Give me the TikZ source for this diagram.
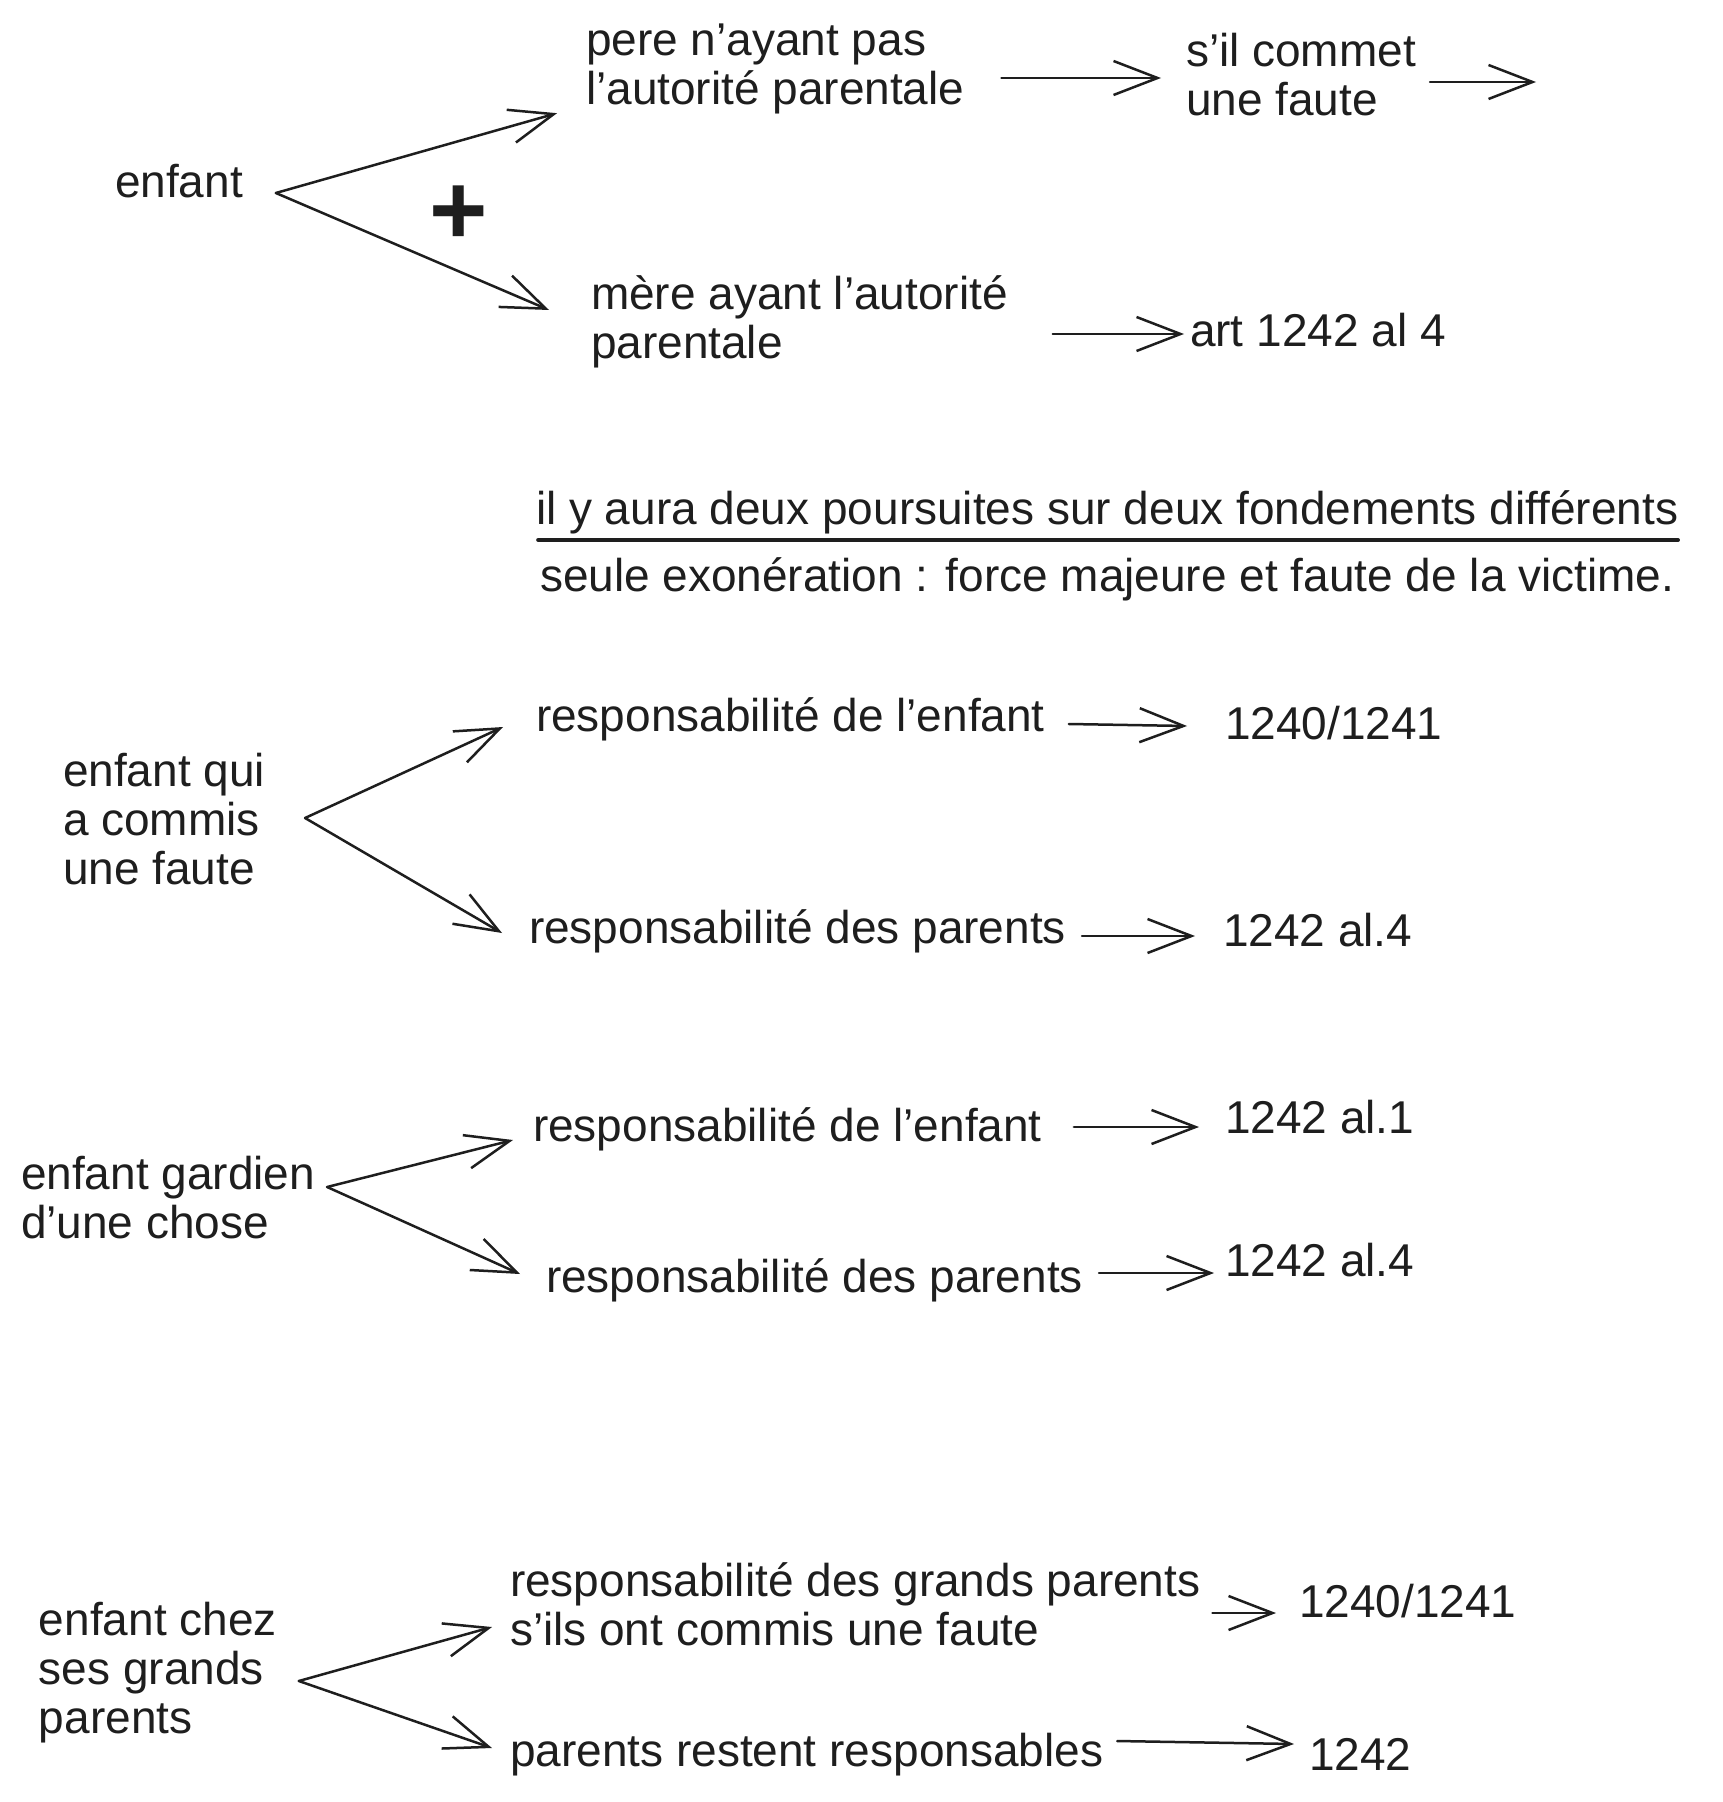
\documentclass[tikz,border=0pt]{standalone}
\usepackage{fontspec}
\setmainfont{Liberation Sans}
\usetikzlibrary{arrows.meta,calc}

\begin{document}
\begin{tikzpicture}[x=0.5pt,y=-0.5pt,
  lbl/.style={text=drawColor,anchor=base west,inner sep=0pt,outer sep=0pt,font=\fontsize{23}{24.5}\selectfont},
  lbls/.style={lbl,anchor=north west,align=left},
  arr/.style={draw=drawColor,line width=1.25pt,line cap=round,line join=round,-{Straight Barb[length=22pt,width=17pt]}}]
\definecolor{fillColor}{RGB}{255,255,255}
\definecolor{drawColor}{RGB}{30,30,30}
\path[use as bounding box,fill=fillColor] (0,0) rectangle (1722,1802);

\node[lbl] (enf) at (115,198) {enfant};
\node[lbls] (pere) at (586,24) {pere n'ayant pas\\l'autorité parentale};
\node[lbls] (sil) at (1186,33) {s'il commet\\une faute};
\node[lbls] (mere) at (591,276) {mère ayant l'autorité\\parentale};
\node[lbl] (art) at (1190,347) {art 1242 al 4};
\node[text=drawColor,inner sep=0pt,font=\fontsize{50}{50}\selectfont\bfseries] (plus) at (459,215) {+};
\coordinate (silout) at (1536,82);

\path[arr] ($(enf.base east)+(33,-5)$) -- ($(pere.south west)+(-29,-1)$);
\path[arr] ($(enf.base east)+(33,-5)$) -- ($(mere.north west)+(-42,34)$);
\path[arr] ($(pere.north east)+(37,54)$) -- ($(sil.north west)+(-25,45)$);
\path[arr] ($(sil.north east)+(14,49)$) -- (silout);
\path[arr] ($(mere.north east)+(45,58)$) -- ($(art.base west)+(-6,-13)$);

\node[lbl] (il) at (536,524) {il y aura deux poursuites sur deux fondements différents};
\path[draw=drawColor,line width=1.8pt,line cap=round] ($(il.base west)+(2,16)$) -- ($(il.base east)+(0,16)$);
\node[lbl] (seule) at (540,591) {seule exonération : force majeure et faute de la victime.};

\node[lbls] (eqf) at (63,753) {enfant qui\\a commis\\une faute};
\node[lbl] (rea) at (536,731) {responsabilité de l'enfant};
\node[lbl] (nea) at (1225,739) {1240/1241};
\node[lbl] (reb) at (529,943) {responsabilité des parents};
\node[lbl] (neb) at (1223,946) {1242 al.4};

\path[arr] ($(eqf.north east)+(40,65)$) -- ($(rea.base west)+(-33,-4)$);
\path[arr] ($(eqf.north east)+(40,65)$) -- ($(reb.base west)+(-27,-10)$);
\path[arr] ($(rea.base east)+(24,-7)$) -- ($(nea.base west)+(-38,-13)$);
\path[arr] ($(reb.base east)+(16,-7)$) -- ($(neb.base west)+(-28,-10)$);

\node[lbls] (egc) at (21,1156) {enfant gardien\\d'une chose};
\node[lbl] (rga) at (533,1141) {responsabilité de l'enfant};
\node[lbl] (nga) at (1225,1133) {1242 al.1};
\node[lbl] (rgb) at (546,1292) {responsabilité des parents};
\node[lbl] (ngb) at (1225,1276) {1242 al.4};

\path[arr] ($(egc.north east)+(12,31)$) -- ($(rga.base west)+(-20,-1)$);
\path[arr] ($(egc.north east)+(12,31)$) -- ($(rgb.base west)+(-26,-18)$);
\path[arr] ($(rga.base east)+(32,-14)$) -- ($(nga.base west)+(-26,-6)$);
\path[arr] ($(rgb.base east)+(16,-19)$) -- ($(ngb.base west)+(-11,-3)$);

\node[lbls] (egp) at (39,1602) {enfant chez\\ses grands\\parents};
\node[lbls] (rpa) at (510,1563) {responsabilité des grands parents\\s'ils ont commis une faute};
\node[lbl] (npa) at (1299,1617) {1240/1241};
\node[lbl] (rpb) at (510,1766) {parents restent responsables};
\node[lbl] (npb) at (1309,1770) {1242};

\path[arr] ($(egp.north east)+(22,79)$) -- ($(rpa.north west)+(-18,64)$);
\path[arr] ($(egp.north east)+(22,79)$) -- ($(rpb.base west)+(-18,-18)$);
\path[arr] ($(rpa.north east)+(12,50)$) -- ($(npa.base west)+(-23,-4)$);
\path[arr] ($(rpb.base east)+(14,-25)$) -- ($(npb.base west)+(-15,-26)$);
\end{tikzpicture}
\end{document}
